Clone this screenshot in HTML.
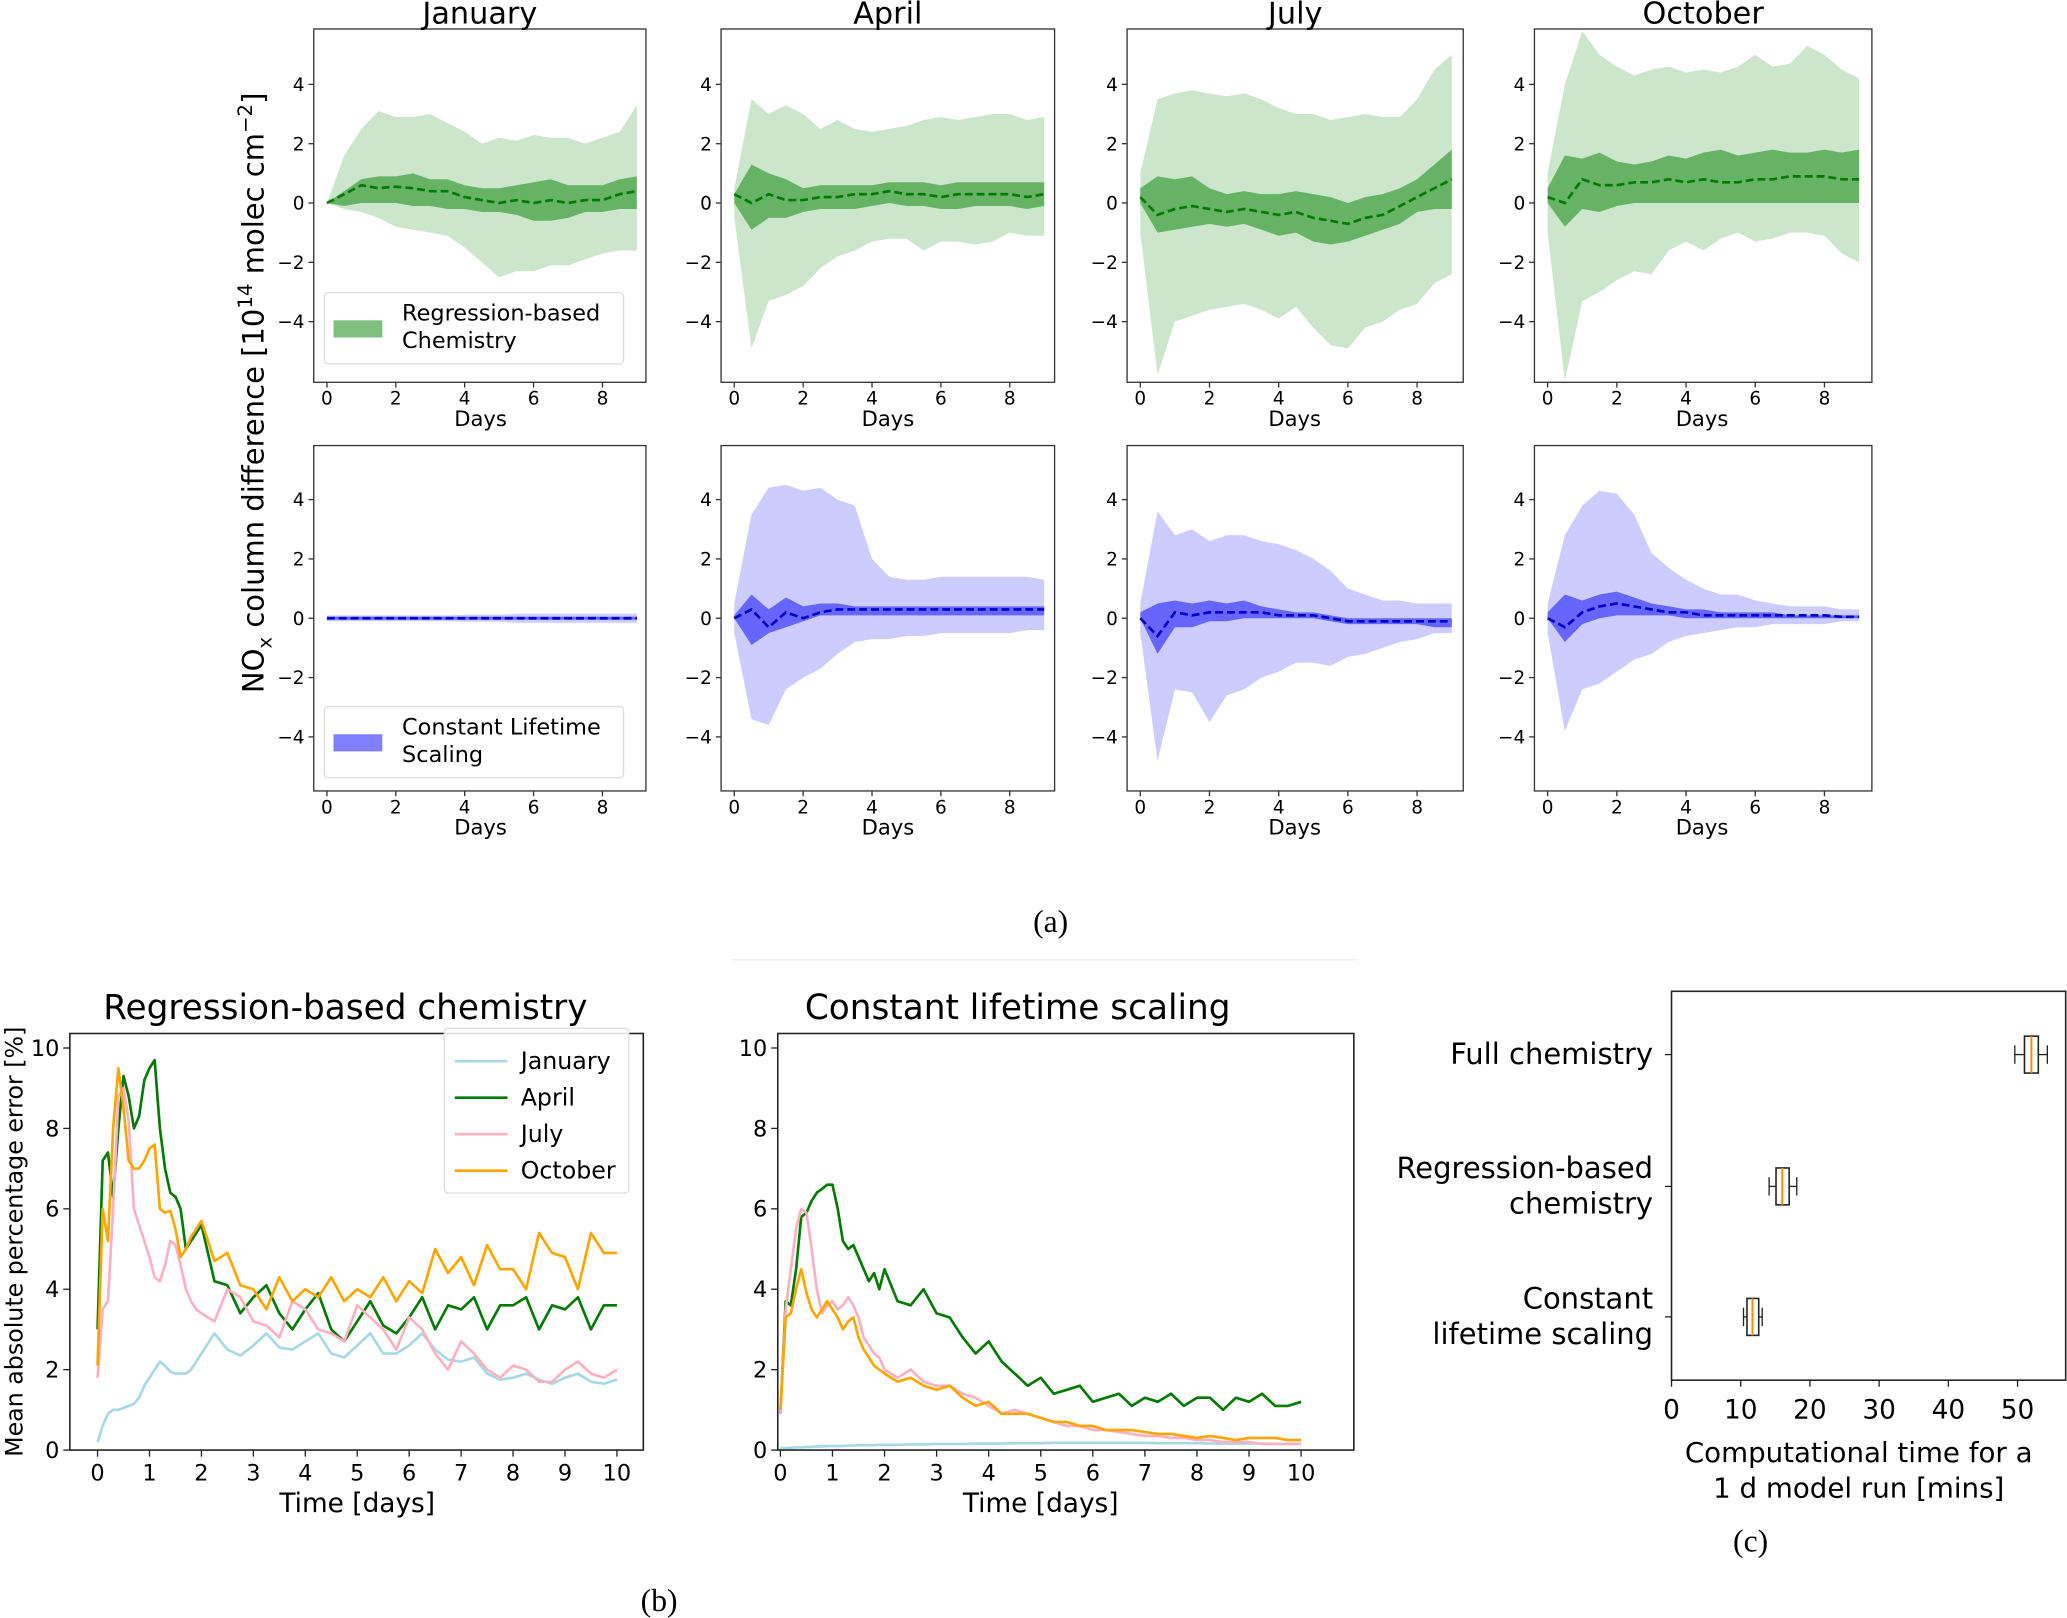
<!DOCTYPE html>
<html><head><meta charset="utf-8"><style>
html,body{margin:0;padding:0;background:#fff;}
svg{display:block;font-family:"DejaVu Sans","Liberation Sans",sans-serif;}
</style></head><body>
<svg id="fig" width="2067" height="1618" viewBox="0 0 1568 1227.4" xmlns="http://www.w3.org/2000/svg">
<rect x="0" y="0" width="1568" height="1227.4" fill="#fff"/>
<text x="797" y="707" font-size="24" text-anchor="middle" font-family="Liberation Serif,serif">(a)</text>
<text x="500" y="1222" font-size="24" text-anchor="middle" font-family="Liberation Serif,serif">(b)</text>
<text x="1328" y="1177" font-size="24" text-anchor="middle" font-family="Liberation Serif,serif">(c)</text>
<line x1="555" y1="728" x2="1030" y2="728" stroke="#eee" stroke-width="1"/>
<text transform="translate(200,298) rotate(-90)" font-size="22" text-anchor="middle">NO<tspan font-size="15" dy="6">x</tspan><tspan dy="-6"> column difference [10</tspan><tspan font-size="15" dy="-9">14</tspan><tspan dy="9"> molec cm</tspan><tspan font-size="15" dy="-9">−2</tspan><tspan dy="9">]</tspan></text>
<g id="root"></g>
</svg>
<script>
// ---------- Panel (a) data (knots every 0.5 day, 0..9) ----------
const months = ["January","April","July","October"];
const dayKnots = [0,0.5,1,1.5,2,2.5,3,3.5,4,4.5,5,5.5,6,6.5,7,7.5,8,8.5,9];
const dayTicks = [0,2,4,6,8];
const valTicks = [-4,-2,0,2,4];
const valTickLabels = ["−4","−2","0","2","4"];
// Regression-based (green)
const gMean = [
 [0,0.3,0.6,0.5,0.55,0.5,0.4,0.4,0.2,0.1,0,0.1,0,0.1,0,0.1,0.1,0.3,0.4],
 [0.3,0,0.3,0.1,0.1,0.2,0.2,0.3,0.3,0.4,0.3,0.3,0.2,0.3,0.3,0.3,0.3,0.2,0.3],
 [0.2,-0.4,-0.2,-0.1,-0.2,-0.3,-0.2,-0.3,-0.4,-0.3,-0.5,-0.6,-0.7,-0.5,-0.4,-0.1,0.2,0.5,0.8],
 [0.2,0,0.8,0.6,0.6,0.7,0.7,0.8,0.7,0.8,0.7,0.7,0.8,0.8,0.9,0.9,0.9,0.8,0.8]];
const gInnerHi = [
 [0,0.4,0.8,0.9,0.9,1.0,0.8,0.8,0.6,0.5,0.5,0.6,0.7,0.8,0.6,0.6,0.6,0.8,0.9],
 [0.3,1.3,1.0,0.8,0.5,0.6,0.6,0.6,0.6,0.7,0.7,0.7,0.6,0.7,0.7,0.7,0.7,0.7,0.7],
 [0.5,0.9,0.8,0.9,0.5,0.3,0.4,0.3,0.3,0.4,0.3,0.2,0,0.2,0.3,0.5,0.8,1.3,1.8],
 [0.5,1.6,1.5,1.7,1.4,1.3,1.4,1.6,1.5,1.7,1.8,1.6,1.7,1.8,1.7,1.7,1.8,1.7,1.8]];
const gInnerLo = [
 [0,-0.1,0,0,0,-0.1,-0.1,-0.2,-0.2,-0.3,-0.3,-0.4,-0.6,-0.6,-0.5,-0.3,-0.3,-0.2,-0.2],
 [0,-0.9,-0.5,-0.5,-0.3,-0.2,-0.2,-0.2,-0.1,0,-0.1,-0.1,-0.2,-0.2,-0.1,-0.1,-0.1,-0.2,-0.1],
 [0,-1.0,-0.9,-0.8,-0.7,-0.8,-0.7,-0.9,-1.1,-1.0,-1.3,-1.4,-1.3,-1.1,-0.9,-0.7,-0.3,-0.2,-0.2],
 [0,-0.8,-0.2,-0.3,-0.1,0,0,0,0,0,0,0,0,0,0,0,0,0,0]];
const gOuterHi = [
 [0,1.6,2.5,3.1,2.9,2.9,3.0,2.7,2.4,2.0,2.2,2.1,2.3,2.2,2.2,2.0,2.2,2.4,3.3],
 [0.5,3.5,3.0,3.3,3.0,2.5,2.8,2.5,2.4,2.5,2.6,2.8,2.9,2.8,2.9,3.0,3.0,2.8,2.9],
 [1.0,3.5,3.7,3.8,3.7,3.6,3.7,3.5,3.2,3.0,3.0,2.8,2.9,3.0,2.9,2.9,3.5,4.5,5.0],
 [1.0,4.0,5.8,5.0,4.6,4.3,4.5,4.6,4.4,4.5,4.4,4.6,5.0,4.6,4.7,5.3,5.0,4.5,4.2]];
const gOuterLo = [
 [0,-0.2,-0.3,-0.5,-0.8,-0.9,-1.0,-1.1,-1.5,-2.0,-2.5,-2.3,-2.3,-2.1,-2.1,-1.9,-1.7,-1.6,-1.6],
 [-0.5,-4.9,-3.3,-3.1,-2.8,-2.2,-1.8,-1.6,-1.3,-1.2,-1.2,-1.6,-1.3,-1.3,-1.4,-1.3,-1.0,-1.1,-1.1],
 [-1.0,-5.8,-4.0,-3.8,-3.6,-3.5,-3.4,-3.6,-3.9,-3.5,-4.2,-4.8,-4.9,-4.2,-4.0,-3.6,-3.4,-2.7,-2.4],
 [-1.0,-6.0,-3.3,-3.0,-2.6,-2.3,-2.4,-1.6,-1.3,-1.6,-1.2,-1.0,-1.3,-1.2,-1.0,-1.0,-1.1,-1.7,-2.0]];
// Constant lifetime scaling (blue)
const bMean = [
 [0,0,0,0,0,0,0,0,0,0,0,0,0,0,0,0,0,0,0],
 [0,0.3,-0.3,0.2,0,0.2,0.3,0.3,0.3,0.3,0.3,0.3,0.3,0.3,0.3,0.3,0.3,0.3,0.3],
 [0,-0.6,0.2,0.1,0.2,0.2,0.2,0.2,0.1,0.1,0.1,0,-0.1,-0.1,-0.1,-0.1,-0.1,-0.1,-0.1],
 [0,-0.3,0.2,0.4,0.5,0.4,0.3,0.2,0.2,0.1,0.1,0.1,0.1,0.1,0.1,0.1,0.1,0.05,0.05]];
const bInnerHi = [
 [0.05,0.05,0.05,0.05,0.05,0.05,0.05,0.05,0.05,0.05,0.05,0.05,0.05,0.05,0.05,0.05,0.05,0.05,0.05],
 [0.1,0.8,0.3,0.7,0.4,0.5,0.5,0.4,0.4,0.4,0.4,0.4,0.4,0.4,0.4,0.4,0.4,0.4,0.4],
 [0.2,0.5,0.6,0.5,0.6,0.5,0.6,0.4,0.3,0.2,0.2,0.1,0,0,0,0,0,0,0],
 [0.2,0.8,0.6,0.8,0.9,0.7,0.5,0.4,0.3,0.3,0.2,0.2,0.2,0.2,0.1,0.1,0.1,0.1,0.1]];
const bInnerLo = [
 [-0.05,-0.05,-0.05,-0.05,-0.05,-0.05,-0.05,-0.05,-0.05,-0.05,-0.05,-0.05,-0.05,-0.05,-0.05,-0.05,-0.05,-0.05,-0.05],
 [0,-0.9,-0.5,-0.3,-0.1,0.1,0.1,0.1,0.1,0.1,0.1,0.1,0.1,0.1,0.1,0.1,0.1,0.1,0.1],
 [0,-1.2,-0.3,-0.3,-0.1,-0.1,0,0,0,0,0,-0.1,-0.2,-0.2,-0.2,-0.2,-0.2,-0.3,-0.3],
 [0,-0.8,-0.2,0,0.1,0.1,0.1,0.1,0,0,0,0,0,0,0,0,0,0,0]];
const bOuterHi = [
 [0.1,0.1,0.1,0.1,0.1,0.1,0.1,0.1,0.12,0.12,0.12,0.15,0.15,0.15,0.15,0.15,0.15,0.15,0.15],
 [0.5,3.5,4.4,4.5,4.3,4.4,4.0,3.8,2.0,1.4,1.3,1.3,1.4,1.4,1.4,1.4,1.4,1.4,1.3],
 [0.5,3.6,2.8,3.0,2.6,2.8,2.8,2.6,2.5,2.3,2.0,1.6,1.0,0.8,0.6,0.6,0.5,0.5,0.5],
 [0.5,2.8,3.8,4.3,4.2,3.5,2.2,1.7,1.3,1.0,0.8,0.8,0.6,0.5,0.4,0.4,0.4,0.3,0.3]];
const bOuterLo = [
 [-0.1,-0.1,-0.1,-0.1,-0.1,-0.1,-0.1,-0.1,-0.12,-0.12,-0.12,-0.15,-0.15,-0.15,-0.15,-0.15,-0.15,-0.15,-0.15],
 [-0.5,-3.4,-3.6,-2.4,-2.0,-1.7,-1.2,-0.8,-0.7,-0.7,-0.6,-0.6,-0.5,-0.5,-0.5,-0.5,-0.5,-0.4,-0.4],
 [-0.5,-4.8,-2.4,-2.5,-3.5,-2.6,-2.4,-2.0,-1.8,-1.5,-1.5,-1.6,-1.3,-1.2,-1.0,-0.8,-0.7,-0.5,-0.5],
 [-0.5,-3.8,-2.4,-2.2,-1.8,-1.4,-1.2,-0.8,-0.6,-0.5,-0.4,-0.3,-0.3,-0.2,-0.2,-0.2,-0.2,-0.1,-0.1]];

// ---------- Panel (b) data ----------
const bTimes = [0,0.1,0.2,0.3,0.4,0.5,0.6,0.7,0.8,0.9,1.0,1.1,1.2,1.3,1.4,1.5,1.6,1.7,1.8,1.9,2.0,
 2.25,2.5,2.75,3,3.25,3.5,3.75,4,4.25,4.5,4.75,5,5.25,5.5,5.75,6,6.25,6.5,6.75,7,7.25,7.5,7.75,8,8.25,8.5,8.75,9,9.25,9.5,9.75,10];
const seriesNames = ["January","April","July","October"];
const regJan = [0.2,0.6,0.9,1.0,1.0,1.05,1.1,1.15,1.3,1.6,1.8,2.0,2.2,2.1,1.95,1.9,1.9,1.9,2.0,2.2,2.4,
 2.9,2.5,2.35,2.6,2.9,2.55,2.5,2.7,2.9,2.4,2.3,2.6,2.9,2.4,2.4,2.6,2.9,2.5,2.25,2.2,2.3,1.9,1.75,1.8,1.9,1.75,1.65,1.8,1.9,1.7,1.65,1.75];
const regApr = [3.0,7.2,7.4,6.3,8.0,9.3,8.8,8.0,8.3,9.2,9.5,9.7,8.0,7.0,6.4,6.3,6.0,5.0,5.2,5.4,5.6,
 4.2,4.1,3.4,3.8,4.1,3.4,3.0,3.5,3.9,3.0,2.7,3.2,3.7,3.1,2.9,3.3,3.8,3.0,3.6,3.5,3.8,3.0,3.6,3.6,3.8,3.0,3.6,3.5,3.8,3.0,3.6,3.6];
const regJul = [1.8,3.5,3.7,6.0,8.8,9.0,8.2,6.0,5.6,5.2,4.8,4.3,4.2,4.6,5.2,5.1,4.6,4.0,3.7,3.5,3.4,
 3.2,4.0,3.8,3.2,3.1,2.8,3.7,3.5,3.0,2.9,2.7,3.6,3.3,3.0,2.5,3.3,3.0,2.4,2.0,2.7,2.4,2.0,1.8,2.1,2.0,1.7,1.7,2.0,2.2,1.9,1.8,2.0];
const regOct = [2.1,6.0,5.2,8.0,9.5,8.5,7.2,7.0,7.0,7.2,7.5,7.6,6.0,5.9,5.95,5.5,4.8,5.0,5.3,5.5,5.7,
 4.7,4.9,4.1,4.0,3.5,4.3,3.7,4.0,3.8,4.3,3.7,4.0,3.8,4.3,3.7,4.2,3.9,5.0,4.4,4.8,4.1,5.1,4.5,4.5,4.0,5.4,4.9,4.8,4.0,5.4,4.9,4.9];
const cltJan = [0.05,0.05,0.06,0.07,0.07,0.08,0.08,0.09,0.09,0.1,0.1,0.1,0.1,0.11,0.11,0.12,0.12,0.12,0.12,0.13,0.13,
 0.13,0.14,0.14,0.15,0.15,0.15,0.16,0.16,0.16,0.17,0.17,0.17,0.18,0.18,0.18,0.18,0.18,0.18,0.18,0.18,0.17,0.17,0.17,0.17,0.16,0.16,0.16,0.16,0.16,0.15,0.15,0.15];
const cltApr = [0.9,3.7,3.6,4.5,5.8,5.9,6.2,6.4,6.5,6.6,6.6,6.0,5.2,5.0,5.1,4.8,4.5,4.2,4.4,4.0,4.5,
 3.7,3.6,4.0,3.4,3.3,2.8,2.4,2.7,2.2,1.9,1.6,1.8,1.4,1.5,1.6,1.2,1.3,1.4,1.1,1.3,1.2,1.4,1.1,1.3,1.3,1.0,1.3,1.2,1.4,1.1,1.1,1.2];
const cltJul = [0.9,3.5,4.5,5.5,6.0,5.9,5.0,4.0,3.4,3.6,3.7,3.5,3.6,3.8,3.6,3.3,2.8,2.6,2.4,2.3,2.0,
 1.8,2.0,1.7,1.6,1.6,1.4,1.3,1.1,0.9,1.0,0.9,0.8,0.7,0.6,0.6,0.5,0.5,0.45,0.4,0.35,0.35,0.3,0.3,0.25,0.25,0.2,0.2,0.2,0.15,0.15,0.15,0.15];
const cltOct = [1.0,3.3,3.4,4.0,4.5,3.9,3.5,3.3,3.5,3.7,3.5,3.3,3.0,3.2,3.3,2.8,2.5,2.3,2.1,2.0,1.9,
 1.7,1.8,1.6,1.5,1.6,1.3,1.1,1.2,0.9,0.9,0.9,0.8,0.7,0.7,0.6,0.6,0.5,0.5,0.5,0.45,0.4,0.4,0.35,0.3,0.35,0.3,0.25,0.3,0.3,0.3,0.25,0.25];
const timeTicks = [0,1,2,3,4,5,6,7,8,9,10];
const errTicks = [0,2,4,6,8,10];

// ---------- Panel (c) data ----------
const boxCats = ["Full chemistry","Regression-based chemistry","Constant lifetime scaling"];
const boxMed = [52,16,11.7];
const boxQ1 = [51,15.1,10.9];
const boxQ3 = [53,17,12.6];
const boxLo = [49.6,14.1,10.4];
const boxHi = [54.3,18.1,13.1];
const minTicks = [0,10,20,30,40,50];

// ---------- drawing ----------
const NS = "http://www.w3.org/2000/svg";
const root = document.getElementById('root');
function el(tag, attrs, parent, text){
  const e = document.createElementNS(NS, tag);
  for (const k in attrs) e.setAttribute(k, attrs[k]);
  if (text !== undefined) e.textContent = text;
  (parent||root).appendChild(e);
  return e;
}
const panelX = [[238,490,248,457],[547,800,557,766],[855,1110,865,1075],[1164,1420,1174,1384]];
const rows = [{top:22,bot:290,zero:154},{top:338,bot:600,zero:469}];
const pxPerUnit = 22.5;
function bandPath(xf, yf, hi, lo){
  let d = "";
  dayKnots.forEach((t,i)=>{ d += (i?"L":"M") + xf(t).toFixed(1)+","+yf(hi[i]).toFixed(1); });
  for (let i=dayKnots.length-1;i>=0;i--) d += "L"+xf(dayKnots[i]).toFixed(1)+","+yf(lo[i]).toFixed(1);
  return d+"Z";
}
function linePath(xf, yf, xs, ys){
  return xs.map((t,i)=>(i?"L":"M")+xf(t).toFixed(1)+","+yf(ys[i]).toFixed(1)).join("");
}
[0,1].forEach(r=>{
  const row = rows[r];
  const isG = r===0;
  const col = isG ? "#008000" : "#0000ff";
  const line = isG ? "#007a00" : "#0000cc";
  months.forEach((m,p)=>{
    const [L,R,x0,x8] = panelX[p];
    const xf = t => x0 + (x8-x0)*t/8;
    const yf = v => row.zero - v*pxPerUnit;
    const g = el('g',{});
    
    
    const oh = isG?gOuterHi[p]:bOuterHi[p], ol = isG?gOuterLo[p]:bOuterLo[p];
    const ih = isG?gInnerHi[p]:bInnerHi[p], il = isG?gInnerLo[p]:bInnerLo[p];
    const mn = isG?gMean[p]:bMean[p];
    const cp = el('clipPath',{id:'cp'+r+p},g); el('rect',{x:L,y:row.top,width:R-L,height:row.bot-row.top},cp);
    const o = el('path',{d:bandPath(xf,yf,oh,ol),fill:col,'fill-opacity':0.2,'clip-path':'url(#cp'+r+p+')'},g);
    
    
    const inn = el('path',{d:bandPath(xf,yf,ih,il),fill:col,'fill-opacity':0.5},g);
    
    
    const ml = el('path',{d:linePath(xf,yf,dayKnots,mn),fill:'none',stroke:line,'stroke-width':2,'stroke-dasharray':'6,3'},g);
    
    
    el('rect',{x:L,y:row.top,width:R-L,height:row.bot-row.top,fill:'none',stroke:'#333','stroke-width':1},g);
    dayTicks.forEach(t=>{
      el('line',{x1:xf(t),x2:xf(t),y1:row.bot,y2:row.bot+4,stroke:'#333'},g);
      const tl = el('text',{x:xf(t),y:row.bot+17,'font-size':14,'text-anchor':'middle'},g,String(t));
      
      
    });
    valTicks.forEach((v,i)=>{
      el('line',{x1:L-4,x2:L,y1:yf(v),y2:yf(v),stroke:'#333'},g);
      const tl = el('text',{x:L-7,y:yf(v)+5,'font-size':14,'text-anchor':'end'},g,valTickLabels[i]);
      
      
    });
    const xl = el('text',{x:(xf(0)+xf(9))/2-1,y:row.bot+33,'font-size':16,'text-anchor':'middle'},g,'Days');
    
    
    if (isG){
      const tt = el('text',{x:(L+R)/2,y:18,'font-size':23,'text-anchor':'middle'},g,m);
      
      
    }
  });
});
// legends for (a)
[[222,"Regression-based","Chemistry","#008000"],[536,"Constant Lifetime","Scaling","#0000ff"]].forEach(([y,a,b,c],i)=>{
  const g = el('g',{});
  
  
  el('rect',{x:246,y:y,width:227,height:54,rx:3,fill:'#fff','fill-opacity':0.85,stroke:'#ddd'},g);
  el('rect',{x:253,y:y+21,width:37,height:13,fill:c,'fill-opacity':0.5},g);
  el('text',{x:305,y:y+21,'font-size':17},g,a);
  el('text',{x:305,y:y+42,'font-size':17},g,b);
});
// (b) line charts
const lineColors = ["#a6d8e6","#007a00","#ffb0c0","#ffa500"];
const charts = [
 {L:53,R:488,T:784,B:1100,x0:74,x10:468,title:"Regression-based chemistry",tx:262,series:[regJan,regApr,regJul,regOct],name:'regression-error-chart'},
 {L:590,R:1027,T:784,B:1100,x0:592,x10:987,title:"Constant lifetime scaling",tx:772,series:[cltJan,cltApr,cltJul,cltOct],name:'constant-lifetime-error-chart'}];
charts.forEach((c,ci)=>{
  const g = el('g',{});
  
  
  const xf = t => c.x0 + (c.x10-c.x0)*t/10;
  const yf = v => 1100 - v*30.5;
  c.series.forEach((s,si)=>{
    const p = el('path',{d:linePath(xf,yf,bTimes,s),fill:'none',stroke:lineColors[si],'stroke-width':2,'stroke-linejoin':'round'},g);
    
    
  });
  el('rect',{x:c.L,y:c.T,width:c.R-c.L,height:c.B-c.T,fill:'none',stroke:'#222','stroke-width':1.2},g);
  timeTicks.forEach(t=>{
    el('line',{x1:xf(t),x2:xf(t),y1:c.B,y2:c.B+5,stroke:'#222'},g);
    const tl = el('text',{x:xf(t),y:c.B+23,'font-size':17,'text-anchor':'middle'},g,String(t));
    
    
  });
  errTicks.forEach(v=>{
    el('line',{x1:c.L-5,x2:c.L,y1:yf(v),y2:yf(v),stroke:'#222'},g);
    const tl = el('text',{x:c.L-8,y:yf(v)+6,'font-size':17,'text-anchor':'end'},g,String(v));
    
    
  });
  const tt = el('text',{x:c.tx,y:773,'font-size':26,'text-anchor':'middle'},g,c.title);
  
  
  const xl = el('text',{x:(xf(0)+xf(10))/2,y:1147,'font-size':20,'text-anchor':'middle'},g,'Time [days]');
  
  
});
{
  const yl = el('text',{transform:'translate(17,942) rotate(-90)','font-size':18,'text-anchor':'middle'},root,'Mean absolute percentage error [%]');
  
  
  const lg = el('g',{});
  
  
  el('rect',{x:337,y:780,width:140,height:125,rx:3,fill:'#fff','fill-opacity':0.85,stroke:'#ddd'},lg);
  seriesNames.forEach((n,i)=>{
    const y = 805 + i*27.7;
    el('line',{x1:345,x2:385,y1:y,y2:y,stroke:lineColors[i],'stroke-width':2},lg);
    const t = el('text',{x:395,y:y+6,'font-size':18},lg,n);
    
    
  });
}
// (c) box plot
{
  const g = el('g',{});
  
  
  const L=1268,R=1567,T=752,B=1047;
  const xf = v => L + v*5.25;
  const catY = [800,900,999];
  el('rect',{x:L,y:T,width:R-L,height:B-T,fill:'none',stroke:'#222','stroke-width':1.2},g);
  boxCats.forEach((n,i)=>{
    const y = catY[i];
    el('line',{x1:L-5,x2:L,y1:y,y2:y,stroke:'#222'},g);
    el('line',{x1:xf(boxLo[i]),x2:xf(boxQ1[i]),y1:y,y2:y,stroke:'#222'},g);
    el('line',{x1:xf(boxQ3[i]),x2:xf(boxHi[i]),y1:y,y2:y,stroke:'#222'},g);
    el('line',{x1:xf(boxLo[i]),x2:xf(boxLo[i]),y1:y-7,y2:y+7,stroke:'#222'},g);
    el('line',{x1:xf(boxHi[i]),x2:xf(boxHi[i]),y1:y-7,y2:y+7,stroke:'#222'},g);
    const b = el('rect',{x:xf(boxQ1[i]),y:y-14,width:xf(boxQ3[i])-xf(boxQ1[i]),height:28,fill:'none',stroke:'#222','stroke-width':1.2},g);
    
    
    el('line',{x1:xf(boxMed[i]),x2:xf(boxMed[i]),y1:y-14,y2:y+14,stroke:'#ff8c00','stroke-width':1.5},g);
  });
  const labels = [[["Full chemistry"],800],[["Regression-based","chemistry"],900],[["Constant ","lifetime scaling"],999]];
  labels.forEach(([lines,y])=>{
    const n = lines.length;
    lines.forEach((s,j)=>{
      const t = el('text',{x:1254,y:y+7+(j-(n-1)/2)*27,'font-size':22,'text-anchor':'end'},g,s);
      
      
    });
  });
  minTicks.forEach(v=>{
    el('line',{x1:xf(v),x2:xf(v),y1:B,y2:B+5,stroke:'#222'},g);
    const t = el('text',{x:xf(v),y:B+29,'font-size':20,'text-anchor':'middle'},g,String(v));
    
    
  });
  const a = el('text',{x:1410,y:1109,'font-size':21,'text-anchor':'middle'},g,'Computational time for a');
  
  
  el('text',{x:1410,y:1136,'font-size':21,'text-anchor':'middle'},g,'1 d model run [mins]');
}
</script>
</body></html>
